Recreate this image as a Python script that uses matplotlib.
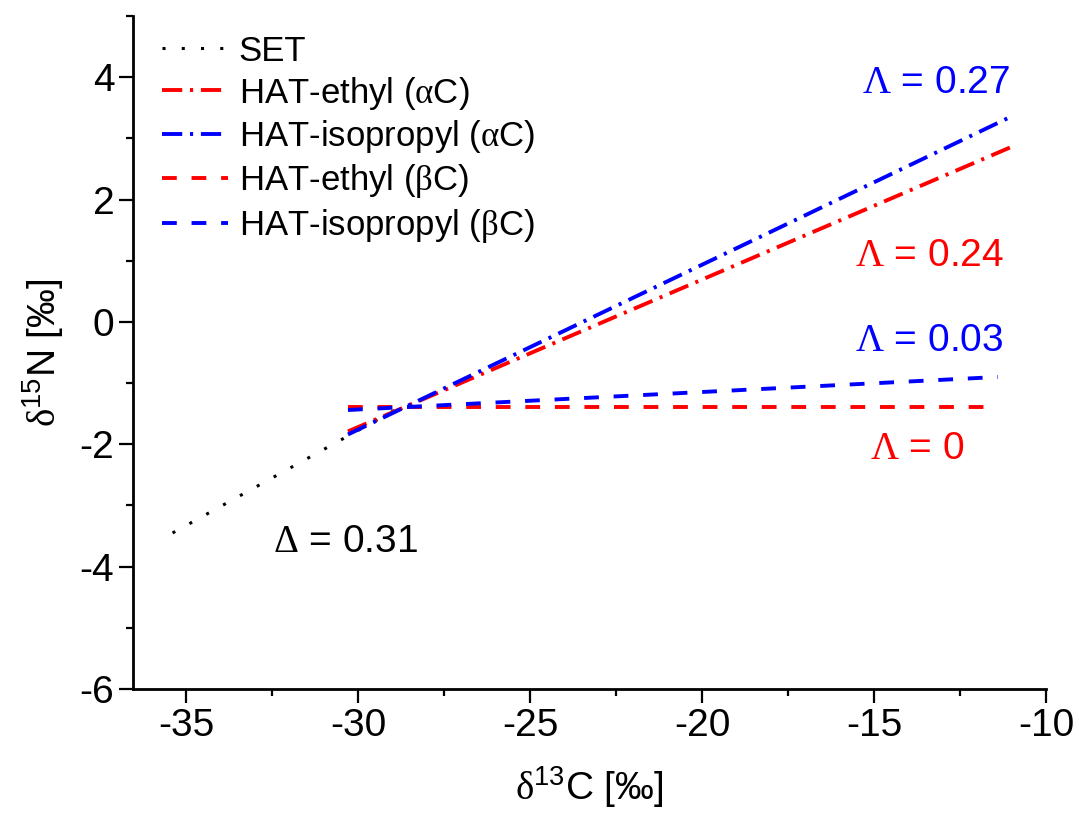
import numpy as np
import matplotlib
matplotlib.use("Agg")
import matplotlib.pyplot as plt
from matplotlib.ticker import MultipleLocator

plt.rcParams['font.family'] = ['Liberation Sans', 'DejaVu Sans']
plt.rcParams['mathtext.fontset'] = 'custom'
plt.rcParams['mathtext.rm'] = 'Liberation Sans'
plt.rcParams['mathtext.cal'] = 'Liberation Serif'
plt.rcParams['axes.unicode_minus'] = False

# line end points (delta13C, delta15N)
set_x = [-35.4, -28.9]
set_y = [-3.45, -1.43]
ethyl_a_x = [-30.3, -11.05]
ethyl_a_y = [-1.79, 2.85]
iso_a_x = [-30.3, -11.0]
iso_a_y = [-1.84, 3.36]
ethyl_b_x = [-30.3, -11.4]
ethyl_b_y = [-1.39, -1.39]
iso_b_x = [-30.3, -11.4]
iso_b_y = [-1.44, -0.90]

labels = ['SET', 'HAT-ethyl ($\\mathcal{α}$C)', 'HAT-isopropyl ($\\mathcal{α}$C)',
          'HAT-ethyl ($\\mathcal{β}$C)', 'HAT-isopropyl ($\\mathcal{β}$C)']

# annotations: text, x, y, colour
notes = [
    ('$\\mathcal{Λ}$ = 0.27', -13.2, 3.90, 'blue'),
    ('$\\mathcal{Λ}$ = 0.24', -13.4, 1.07, 'red'),
    ('$\\mathcal{Λ}$ = 0.03', -13.4, -0.31, 'blue'),
    ('$\\mathcal{Λ}$ = 0', -13.75, -2.08, 'red'),
    ('$\\mathcal{Δ}$ = 0.31', -30.38, -3.59, 'black'),
]

fig = plt.figure(figsize=(10.79, 8.14), dpi=100)
ax = fig.add_axes([0.1233, 0.1536, 0.8461, 0.8267])

lw = 2.8
ax.plot(set_x, set_y, color='black', lw=2.2, dashes=(1, 5.3), label=labels[0])
ax.plot(ethyl_a_x, ethyl_a_y, color='red', lw=lw, dashes=(5.2, 2, 0.8, 2), label=labels[1])
ax.plot(iso_a_x, iso_a_y, color='blue', lw=lw, dashes=(5.2, 2, 0.8, 2), label=labels[2])
ax.plot(ethyl_b_x, ethyl_b_y, color='red', lw=lw, dashes=(3.8, 3.8), label=labels[3])
ax.plot(iso_b_x, iso_b_y, color='blue', lw=lw, dashes=(3.8, 3.8), label=labels[4])

for txt, x, y, c in notes:
    ax.text(x, y, txt, color=c, fontsize=28, ha='center', va='center')

ax.set_xlim(-36.55, -10)
ax.set_ylim(-6, 5)
ax.xaxis.set_major_locator(MultipleLocator(5))
ax.xaxis.set_minor_locator(MultipleLocator(2.5))
ax.yaxis.set_minor_locator(MultipleLocator(1))
ax.set_yticks([-6, -4, -2, 0, 2, 4])

for s in ['top', 'right']:
    ax.spines[s].set_visible(False)
for s in ['left', 'bottom']:
    ax.spines[s].set_linewidth(2)
ax.tick_params(which='major', length=10, width=1.6, labelsize=28, direction='out')
ax.tick_params(which='minor', length=5, width=1.6, direction='out')

ax.set_xlabel('$\\mathcal{δ}^{13}$C [‰]', fontsize=28, labelpad=15)
ax.set_ylabel('$\\mathcal{δ}^{15}$N [‰]', fontsize=28, labelpad=10)

ax.legend(loc='upper left', bbox_to_anchor=(-0.006, 1.024), frameon=False, fontsize=25,
          handlelength=1.9, handletextpad=0.3, labelspacing=0.2, borderaxespad=0.6)

fig.savefig('out.png', dpi=100)
